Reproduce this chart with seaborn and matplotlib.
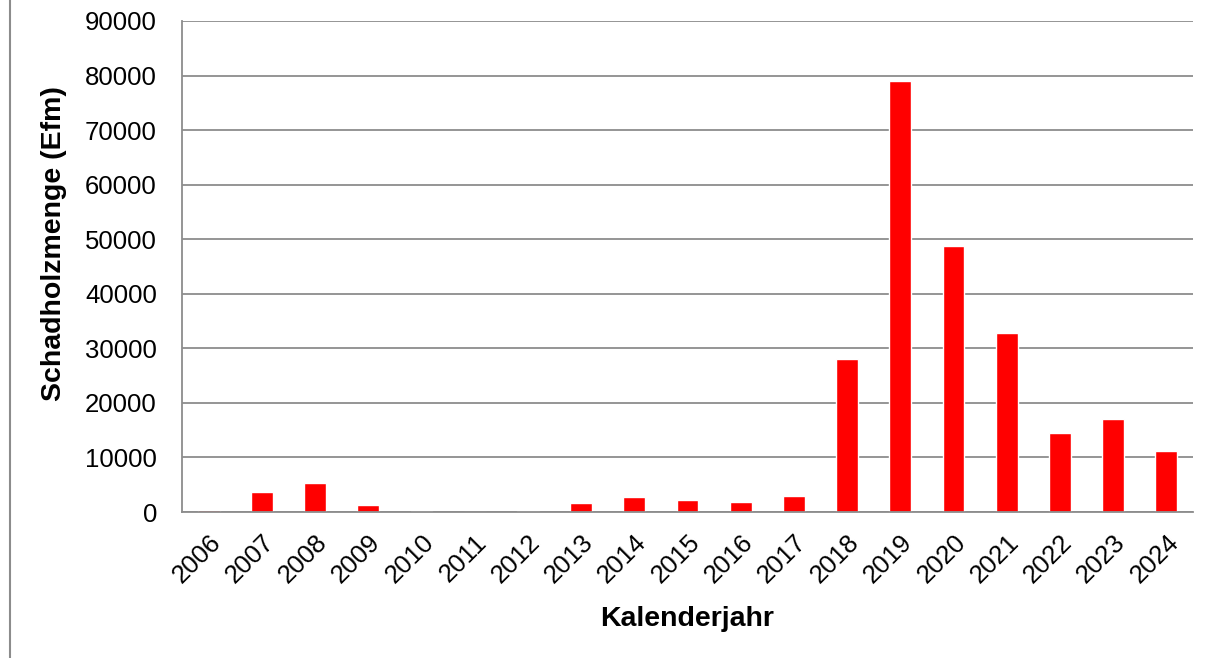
import matplotlib
matplotlib.use("Agg")
import matplotlib.pyplot as plt
from matplotlib.lines import Line2D
import seaborn as sns
import pandas as pd
import numpy as np

# values
years = [str(y) for y in range(2006, 2025)]
schadholz = [400, 3700, 5400, 1200, 150, 0, 100, 1600, 2800, 2200,
             1900, 2900, 28000, 79000, 48700, 32900, 14500, 17100, 11200]
y_ticks = list(range(0, 90001, 10000))

df = pd.DataFrame({"Kalenderjahr": years, "Schadholzmenge": schadholz})

sns.set_style("white")
plt.rcParams["font.family"] = ["Liberation Sans", "DejaVu Sans"]
plt.rcParams["text.color"] = "black"
plt.rcParams["axes.labelcolor"] = "black"
plt.rcParams["xtick.labelcolor"] = "black"
plt.rcParams["ytick.labelcolor"] = "black"

grey = "#8c8c8c"
fig = plt.figure(figsize=(12.1, 6.58), dpi=100)
ax = fig.add_axes([182 / 1210, 1 - 512 / 658, (1193 - 182) / 1210, (512 - 21) / 658])

sns.barplot(data=df, x="Kalenderjahr", y="Schadholzmenge", color="#ff0000",
            saturation=1, width=0.41, ax=ax)

ax.set_ylim(0, 90000)
ax.set_xlim(-0.5, len(years) - 0.5)
ax.set_yticks(y_ticks)
ax.set_yticklabels([str(t) for t in y_ticks], fontsize=18.5)
ax.yaxis.grid(True, color=grey, linewidth=1.3)
ax.set_axisbelow(True)

# tick marks between categories, labels centred on bars
ax.set_xticks(range(len(years)))
ax.set_xticklabels(years, rotation=45, ha="right", rotation_mode="anchor", fontsize=18.5)
ax.set_xticks(np.arange(-0.5, len(years)), minor=True)
ax.tick_params(axis="x", which="major", length=0, pad=13)
ax.tick_params(axis="x", which="minor", length=6, color=grey, width=1.3, direction="out")
ax.tick_params(axis="y", length=6, color=grey, width=1.3, direction="out", pad=12)

for side in ["top", "right"]:
    ax.spines[side].set_visible(False)
for side in ["left", "bottom"]:
    ax.spines[side].set_color(grey)
    ax.spines[side].set_linewidth(1.3)

ax.set_xlabel("Kalenderjahr", fontsize=20.5, fontweight="bold", labelpad=13)
ax.set_ylabel("Schadholzmenge (Efm)", fontsize=20.5, fontweight="bold")
ax.yaxis.set_label_coords(-0.114, 0.546)

# frame line on the left edge of the picture
fig.add_artist(Line2D([10 / 1210, 10 / 1210], [0, 1], color=grey, linewidth=1.5,
                      transform=fig.transFigure))

fig.savefig("out.png", dpi=100)
